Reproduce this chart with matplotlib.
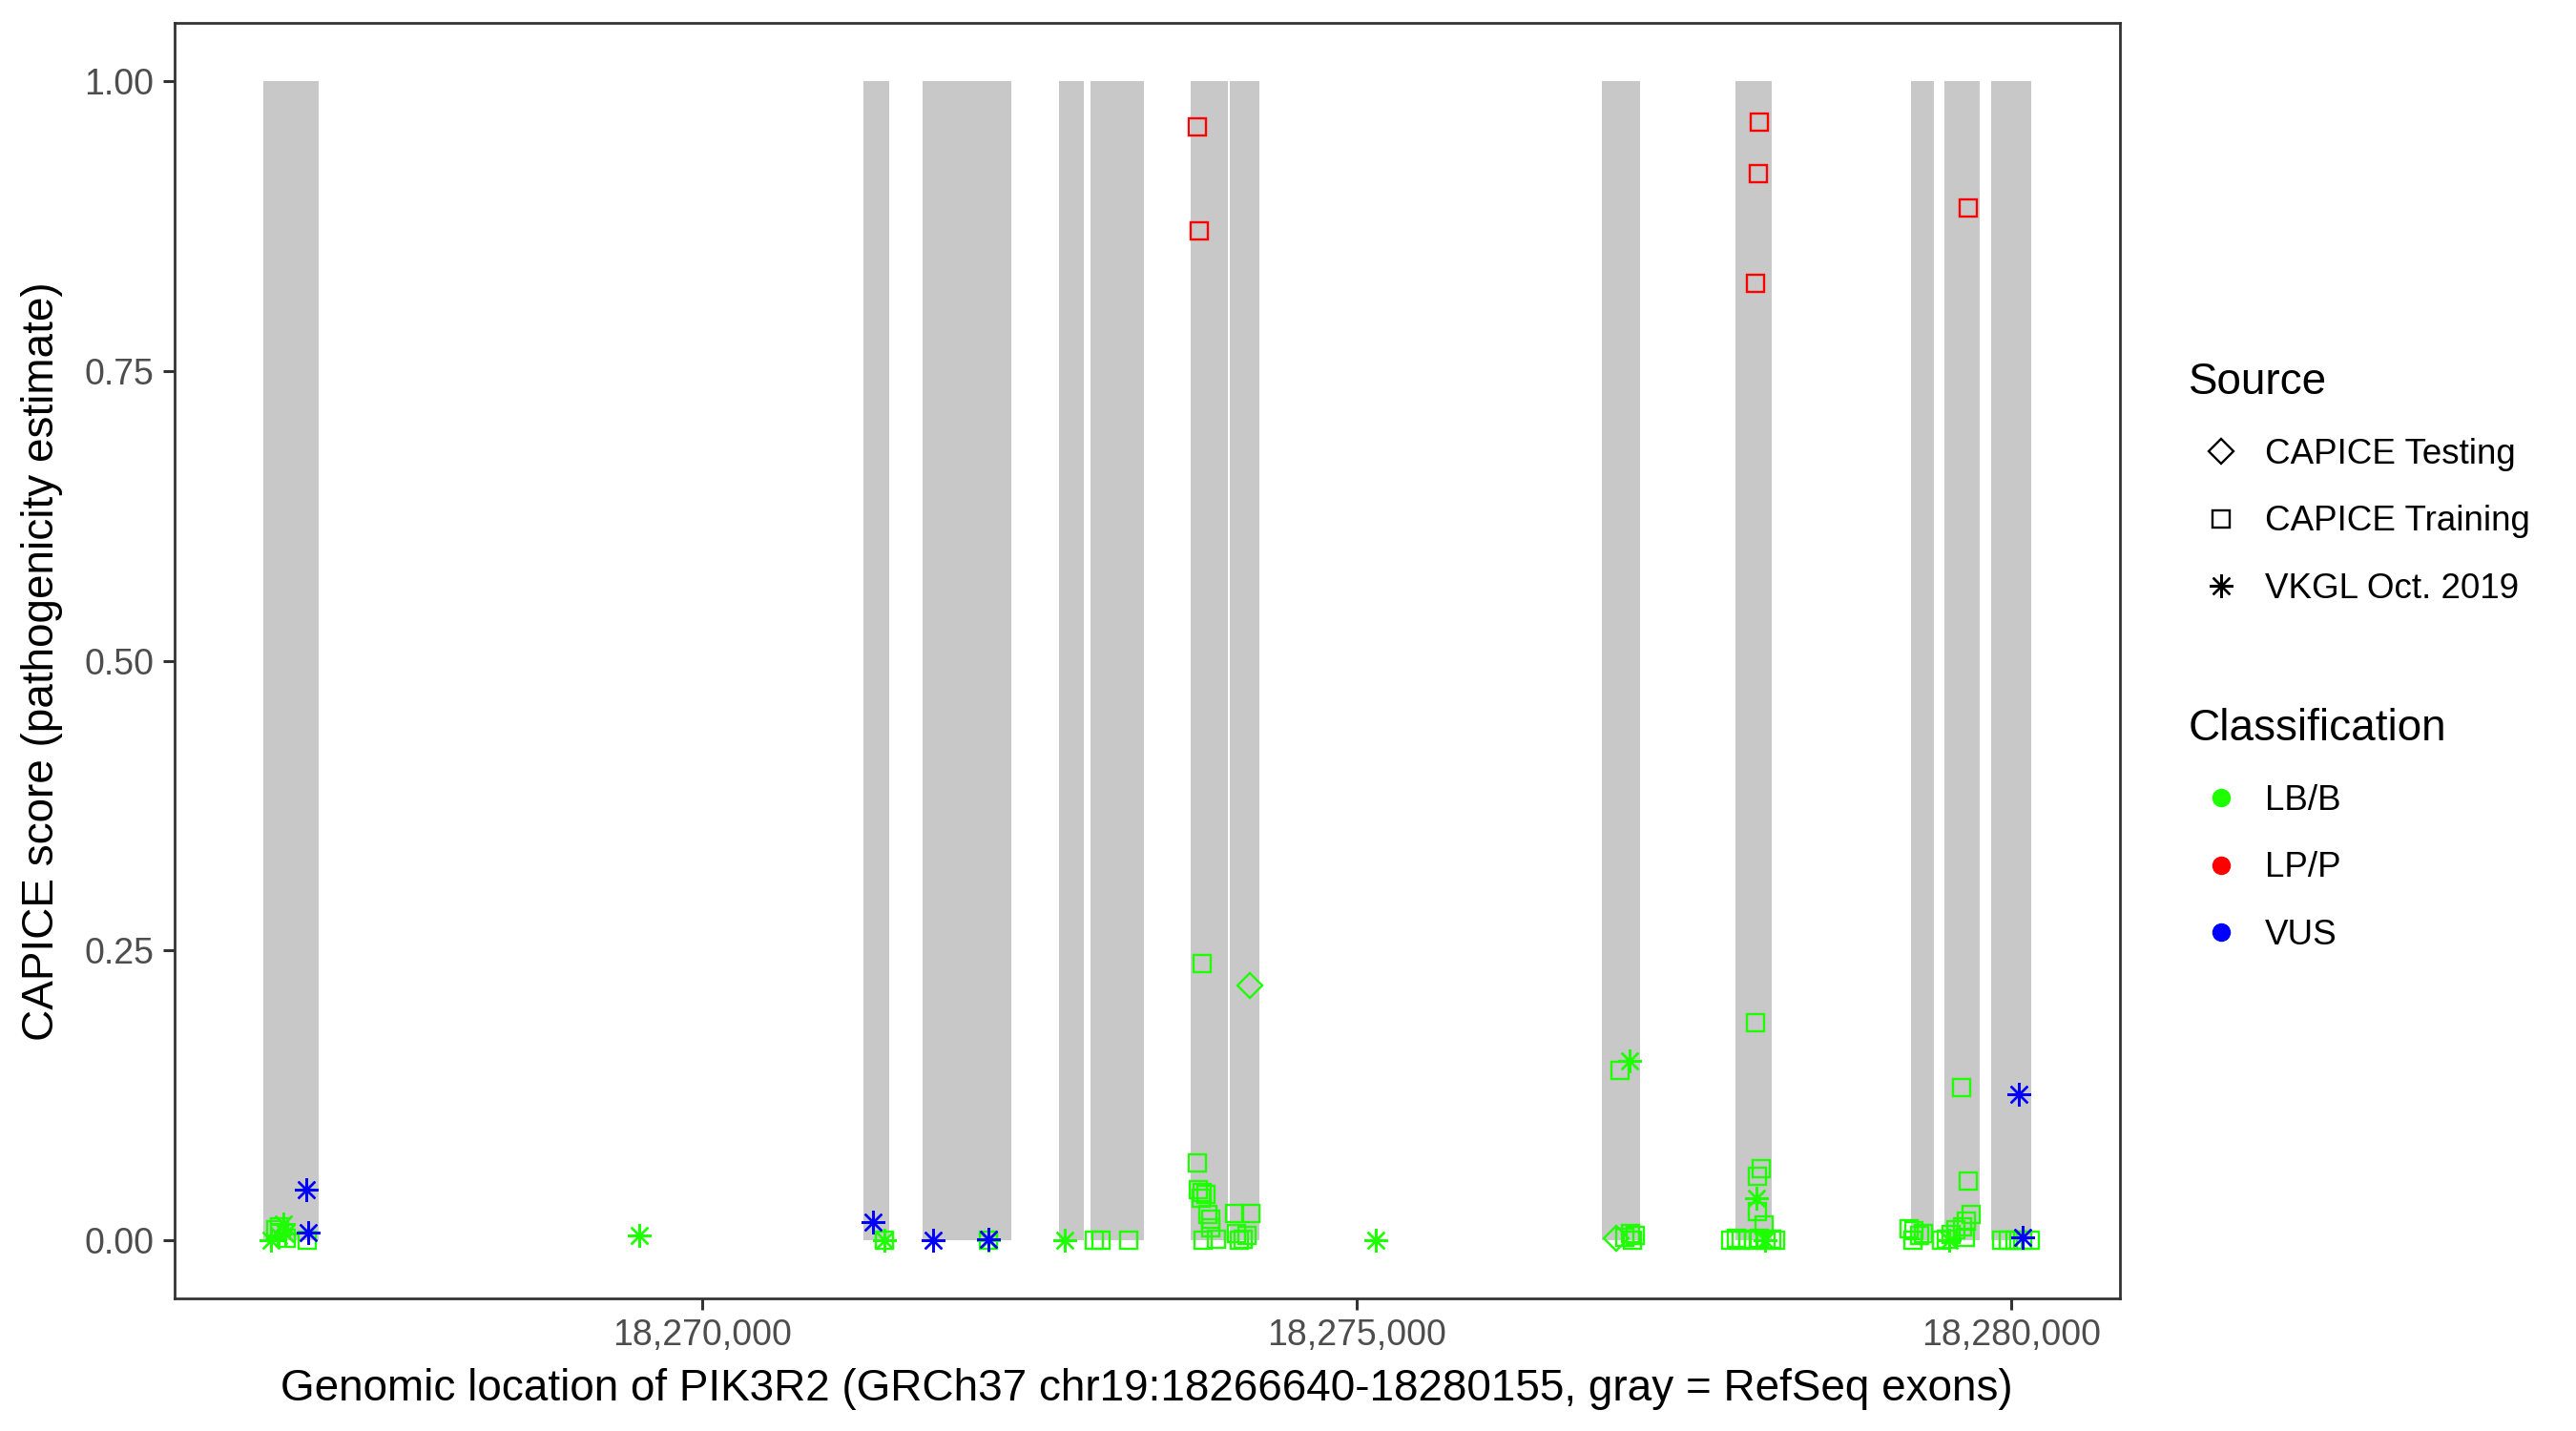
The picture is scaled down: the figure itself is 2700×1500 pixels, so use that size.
import matplotlib
matplotlib.use("Agg")
import matplotlib.pyplot as plt
from matplotlib.lines import Line2D
from matplotlib.ticker import FuncFormatter

plt.rcParams['font.family'] = ['Liberation Sans', 'DejaVu Sans']

# RefSeq exons of PIK3R2 (start, end)
exon_start = [18266640, 18271231, 18271682, 18272724, 18272964, 18273729,
              18274028, 18276875, 18277895, 18279235, 18279490, 18279847]
exon_end = [18267065, 18271428, 18272360, 18272913, 18273372, 18274013,
            18274253, 18277167, 18278172, 18279410, 18279760, 18280155]

# CAPICE Training, LB/B
train_lb_pos = [18266737, 18266766, 18266817, 18266975, 18271391, 18272184,
                18272997, 18273044, 18273254,
                18273816, 18273781, 18273787, 18273816, 18273846, 18273809,
                18273865, 18273882, 18273882, 18273824, 18273926,
                18274066, 18274188, 18274079, 18274164, 18274101, 18274130,
                18277016, 18277050, 18277090, 18277130, 18277110,
                18278050, 18278092, 18278065, 18278060, 18278114,
                18277860, 18277900, 18277940, 18277990, 18278030, 18278080,
                18278130, 18278170, 18278200,
                18279220, 18279260, 18279300, 18279250, 18279330,
                18279626, 18279675, 18279694, 18279663, 18279629, 18279578,
                18279541, 18279505, 18279468, 18279650,
                18279927, 18279978, 18280029, 18280087, 18280146]
train_lb_score = [0.009, 0.012, 0.002, 0.000, 0.000, 0.000,
                  0.000, 0.000, 0.000,
                  0.239, 0.067, 0.044, 0.041, 0.040, 0.036,
                  0.022, 0.018, 0.011, 0.000, 0.001,
                  0.023, 0.023, 0.006, 0.004, 0.000, 0.001,
                  0.147, 0.003, 0.006, 0.004, 0.000,
                  0.188, 0.062, 0.055, 0.025, 0.013,
                  0.000, 0.002, 0.000, 0.001, 0.000, 0.002,
                  0.000, 0.001, 0.000,
                  0.010, 0.008, 0.004, 0.000, 0.006,
                  0.132, 0.051, 0.022, 0.017, 0.012, 0.009,
                  0.005, 0.001, 0.000, 0.003,
                  0.000, 0.000, 0.000, 0.000, 0.000]

# CAPICE Training, LP/P
train_lp_pos = [18273784, 18273793, 18278074, 18278070, 18278048, 18279677]
train_lp_score = [0.961, 0.871, 0.965, 0.920, 0.826, 0.891]

# CAPICE Testing, LB/B
test_lb_pos = [18274180, 18276980]
test_lb_score = [0.220, 0.002]

# VKGL Oct. 2019, LB/B
vkgl_lb_pos = [18266699, 18266793, 18266808, 18266760, 18269512, 18271391,
               18272184, 18272770, 18275147, 18277089, 18278055, 18278121,
               18279527]
vkgl_lb_score = [0.000, 0.014, 0.006, 0.004, 0.004, 0.000,
                 0.000, 0.000, 0.000, 0.155, 0.036, 0.000,
                 0.000]

# VKGL Oct. 2019, VUS
vkgl_vus_pos = [18266969, 18266982, 18271300, 18271762, 18272184, 18280058,
                18280087]
vkgl_vus_score = [0.044, 0.007, 0.016, 0.000, 0.001, 0.126, 0.003]

gene_start = 18266640
gene_end = 18280155

green = '#1EFF00'
red = '#FF0000'
blue = '#0000FF'
asterisk = (8, 2, 0)

fig = plt.figure(figsize=(27, 15), dpi=100)
ax = fig.add_axes([0.0678, 0.0927, 0.755, 0.891])

# exons as gray bars
widths = [e - s for s, e in zip(exon_start, exon_end)]
ax.bar(exon_start, [1] * len(exon_start), width=widths, align='edge',
       bottom=0, color='#C8C8C8', linewidth=0, zorder=1)

ms_sq = 13
ms_ast = 18
lw = 1.7
ax.plot(train_lb_pos, train_lb_score, ls='none', marker='s', ms=ms_sq,
        mfc='none', mec=green, mew=lw, zorder=3)
ax.plot(test_lb_pos, test_lb_score, ls='none', marker='D', ms=ms_sq,
        mfc='none', mec=green, mew=lw, zorder=3)
ax.plot(vkgl_lb_pos, vkgl_lb_score, ls='none', marker=asterisk, ms=ms_ast,
        mfc='none', mec=green, mew=lw, zorder=3)
ax.plot(train_lp_pos, train_lp_score, ls='none', marker='s', ms=ms_sq,
        mfc='none', mec=red, mew=lw, zorder=4)
ax.plot(vkgl_vus_pos, vkgl_vus_score, ls='none', marker=asterisk, ms=ms_ast,
        mfc='none', mec=blue, mew=lw, zorder=5)

span = gene_end - gene_start
ax.set_xlim(gene_start - 0.05 * span, gene_end + 0.05 * span)
ax.set_ylim(-0.05, 1.05)
ax.set_xticks([18270000, 18275000, 18280000])
ax.xaxis.set_major_formatter(FuncFormatter(lambda v, p: f'{int(v):,}'))
ax.set_yticks([0, 0.25, 0.5, 0.75, 1.0])
ax.yaxis.set_major_formatter(FuncFormatter(lambda v, p: f'{v:.2f}'))

ax.tick_params(length=8.5, width=2.2, color='#333333', labelsize=27,
               labelcolor='#4D4D4D', pad=7)
for sp in ax.spines.values():
    sp.set_linewidth(2.0)
    sp.set_color('#333333')

ax.set_xlabel('Genomic location of PIK3R2 (GRCh37 chr19:18266640-18280155, gray = RefSeq exons)',
              fontsize=33, labelpad=11)
ax.set_ylabel('CAPICE score (pathogenicity estimate)', fontsize=33, labelpad=16)

# legends
src_handles = [
    Line2D([], [], ls='none', marker='D', ms=ms_sq, mfc='none', mec='black', mew=lw),
    Line2D([], [], ls='none', marker='s', ms=ms_sq, mfc='none', mec='black', mew=lw),
    Line2D([], [], ls='none', marker=asterisk, ms=ms_ast, mfc='none', mec='black', mew=lw),
]
src_labels = ['CAPICE Testing', 'CAPICE Training', 'VKGL Oct. 2019']
cls_handles = [
    Line2D([], [], ls='none', marker='o', ms=13, mfc=c, mec=c)
    for c in (green, red, blue)
]
cls_labels = ['LB/B', 'LP/P', 'VUS']

leg1 = fig.legend(src_handles, src_labels, title='Source', loc='upper left',
                  bbox_to_anchor=(0.8496, 0.7473), frameon=False,
                  fontsize=26.5, title_fontsize=33, alignment='left',
                  borderpad=0, borderaxespad=0, handlelength=1.85,
                  handletextpad=0.32, labelspacing=0.97)
leg2 = fig.legend(cls_handles, cls_labels, title='Classification',
                  loc='upper left', bbox_to_anchor=(0.8496, 0.5053),
                  frameon=False, fontsize=26.5, title_fontsize=33,
                  alignment='left', borderpad=0, borderaxespad=0,
                  handlelength=1.85, handletextpad=0.32, labelspacing=0.97)

fig.savefig('out.png', dpi=100)
